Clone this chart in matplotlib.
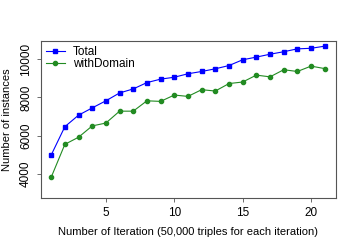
import matplotlib
matplotlib.use("Agg")
import matplotlib.pyplot as plt

iterations = list(range(1, 22))
total = [4990, 6470, 7070, 7450, 7820, 8230, 8440, 8770, 8950, 9050, 9230,
         9350, 9490, 9660, 9960, 10100, 10250, 10380, 10530, 10560, 10670]
with_domain = [3830, 5550, 5920, 6510, 6660, 7280, 7280, 7820, 7790, 8120, 8050,
               8400, 8330, 8720, 8800, 9160, 9070, 9440, 9350, 9630, 9500]

plt.rcParams['font.family'] = ['Liberation Sans', 'DejaVu Sans']
plt.rcParams['font.size'] = 8

fig = plt.figure(figsize=(3.57, 2.5), dpi=100)
ax = fig.add_axes([0.115, 0.208, 0.826, 0.628])

ax.plot(iterations, total, color='blue', marker='s', markersize=3, linewidth=0.8, label='Total')
ax.plot(iterations, with_domain, color='forestgreen', marker='o', markersize=3, linewidth=0.8,
        label='withDomain')

ax.set_xlim(0.26, 21.82)
ax.set_ylim(2750, 10940)
ax.set_xticks([5, 10, 15, 20])
ax.set_yticks([4000, 6000, 8000, 10000])
ax.tick_params(labelsize=8.5)
for lbl in ax.get_yticklabels():
    lbl.set_rotation(90)
    lbl.set_va('center')
ax.tick_params(direction='out', length=3, width=0.6, colors='#555555', labelcolor='black')
for s in ax.spines.values():
    s.set_color('#555555')
    s.set_linewidth(0.8)

ax.set_xlabel('Number of Iteration (50,000 triples for each iteration)', labelpad=6)
ax.set_ylabel('Number of instances', labelpad=6)
ax.legend(loc='upper left', frameon=False, borderaxespad=0.1, handlelength=1.6,
          labelspacing=0.0, handletextpad=0.7, borderpad=0.3, fontsize=8.5)

fig.savefig('out.png', dpi=100)
